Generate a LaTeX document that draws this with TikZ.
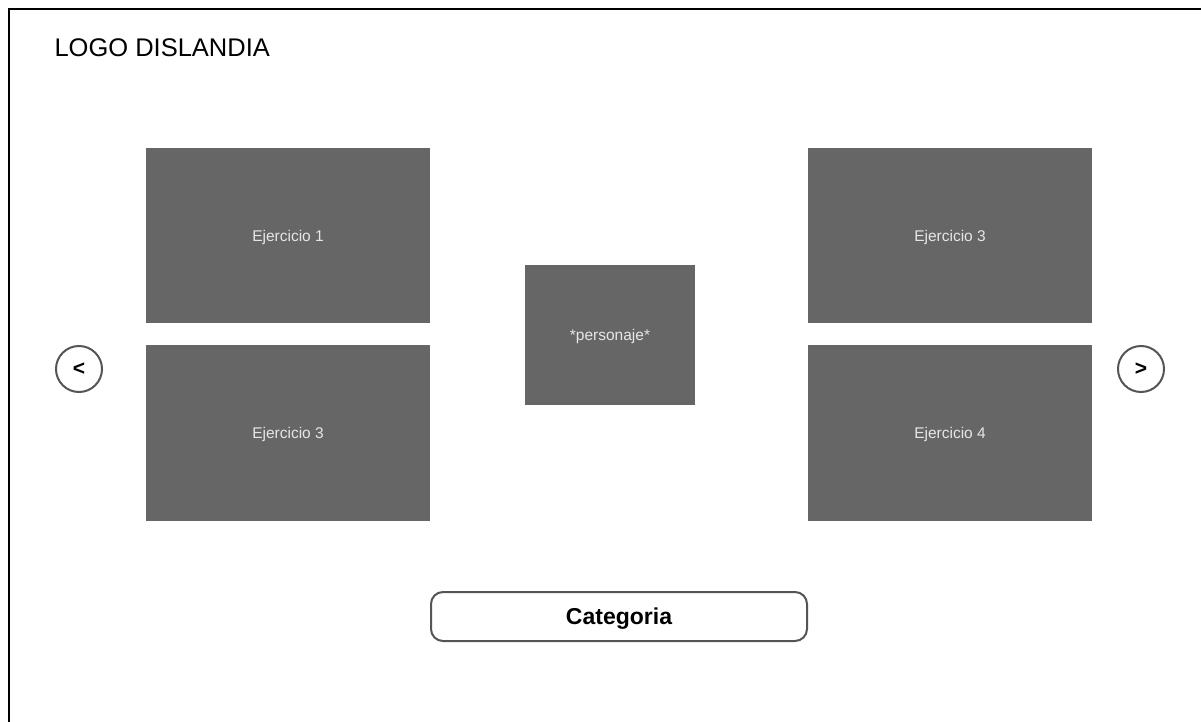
\documentclass[tikz,border=0pt]{standalone}
\usepackage{fontspec}
\setmainfont{Liberation Sans}
\begin{document}
\begin{tikzpicture}[x=1pt,y=-1pt,
  tile/.style={fill=tilegray,draw=none,minimum width=#1,inner sep=0pt,
    text depth=0pt,text=tiletext,font=\fontsize{15.5}{18}\selectfont},
  navbtn/.style={circle,draw=ringgray,line width=2pt,fill=white,minimum size=46pt,
    inner sep=0pt,font=\fontsize{21}{23}\selectfont\bfseries},
  pillbtn/.style={rounded corners=12pt,draw=ringgray,line width=2pt,fill=white,
    minimum width=376pt,minimum height=49pt,inner sep=0pt,text depth=0pt,
    font=\fontsize{23}{26}\selectfont\bfseries}]
\definecolor{tilegray}{HTML}{666666}
\definecolor{tiletext}{HTML}{E6E6E6}
\definecolor{ringgray}{HTML}{555555}
\useasboundingbox[fill=white] (0,0) rectangle (1201,722);
% page frame, running off the right and bottom edges
\draw[line width=2.5pt] (9,730) -- (9,9) -- (1210,9);
% header
\node[anchor=west,font=\fontsize{25.5}{30}\selectfont] (logo) at (51,47.5) {LOGO DISLANDIA};
% exercise tiles
\node[tile=284pt,minimum height=175pt] (e1) at (288,235.5) {Ejercicio 1};
\node[tile=284pt,minimum height=176pt] (e3l) at (288,433) {Ejercicio 3};
\node[tile=284pt,minimum height=175pt] (e3r) at (950,235.5) {Ejercicio 3};
\node[tile=284pt,minimum height=176pt] (e4) at (950,433) {Ejercicio 4};
\node[tile=170pt,minimum height=140pt] (pj) at (610,335) {*personaje*};
% navigation arrows
\node[navbtn] (prev) at (79,369) {<};
\node[navbtn] (next) at (1141,369) {>};
% category button
\node[pillbtn] (cat) at (619,616.5) {Categoria};
\end{tikzpicture}
\end{document}
